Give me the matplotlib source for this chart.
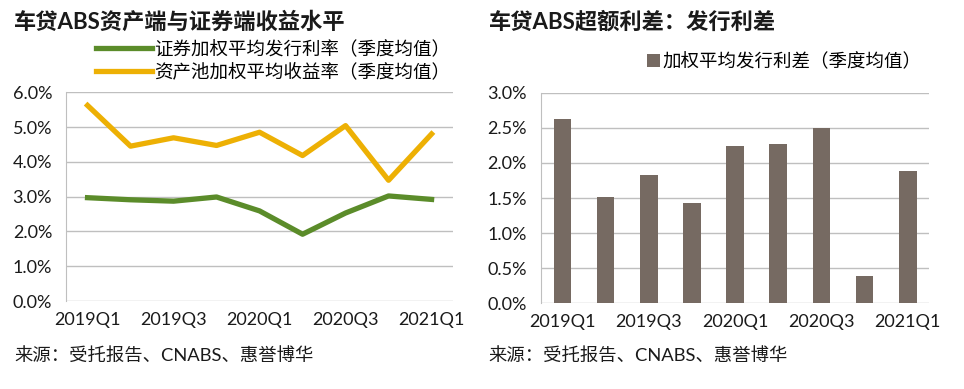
import numpy as np
import matplotlib
matplotlib.use("Agg")
import matplotlib.pyplot as plt
from matplotlib.ticker import FuncFormatter, MultipleLocator

plt.rcParams['font.family'] = ['Lato', 'Noto Sans CJK SC', 'DejaVu Sans']

quarters = ["2019Q1", "2019Q2", "2019Q3", "2019Q4", "2020Q1",
            "2020Q2", "2020Q3", "2020Q4", "2021Q1"]
issue_rate = [2.97, 2.91, 2.87, 2.99, 2.59, 1.92, 2.53, 3.02, 2.92]
pool_yield = [5.62, 4.45, 4.69, 4.47, 4.85, 4.18, 5.04, 3.47, 4.80]
spread = [2.63, 1.51, 1.83, 1.43, 2.24, 2.27, 2.50, 0.39, 1.89]

label_issue = "证券加权平均发行利率（季度均值）"
label_pool = "资产池加权平均收益率（季度均值）"
label_spread = "加权平均发行利差（季度均值）"
title_left = "车贷ABS资产端与证券端收益水平"
title_right = "车贷ABS超额利差：发行利差"
source = "来源：受托报告、CNABS、惠誉博华"

green = "#5B8C2A"
gold = "#EDB004"
brown = "#766A62"
grid_c = "#BFBFBF"
text_c = "#1A1A1A"

fig = plt.figure(figsize=(9.64, 3.89), dpi=100)
ax1 = fig.add_axes([0.0685, 0.226, 0.4015, 0.537])
ax2 = fig.add_axes([0.561, 0.221, 0.403, 0.540])

x = np.arange(len(quarters))
pct = FuncFormatter(lambda v, p: f"{v:.1f}%")


def style(ax, ymax, step):
    ax.set_xlim(-0.5, len(quarters) - 0.5)
    ax.set_ylim(0, ymax)
    ax.yaxis.set_major_locator(MultipleLocator(step))
    ax.yaxis.set_major_formatter(pct)
    ax.set_xticks(x[::2])
    ax.set_xticklabels(quarters[::2])
    ax.grid(axis='y', color=grid_c, linewidth=1)
    ax.set_axisbelow(True)
    for s in ['top', 'right', 'bottom']:
        ax.spines[s].set_visible(False)
    ax.spines['left'].set_color(grid_c)
    ax.tick_params(length=0, labelsize=13, colors=text_c, pad=8)
    ax.tick_params(axis='y', pad=10)


ax1.plot(x, issue_rate, color=green, lw=3.8, label=label_issue)
ax1.plot(x, pool_yield, color=gold, lw=3.8, label=label_pool)
style(ax1, 6.0, 1.0)
ax1.legend(loc='upper left', bbox_to_anchor=(0.1, 0.897),
           bbox_transform=fig.transFigure, frameon=False, fontsize=13.3,
           handlelength=3.0, handletextpad=0.1, labelspacing=0.25,
           borderaxespad=0, borderpad=0)

ax2.bar(x, spread, width=0.41, color=brown, label=label_spread)
style(ax2, 3.0, 0.5)
ax2.legend(loc='upper left', bbox_to_anchor=(0.671, 0.866),
           bbox_transform=fig.transFigure, frameon=False, fontsize=13.3,
           handlelength=0.7, handleheight=0.7, handletextpad=0.15,
           borderaxespad=0, borderpad=0)

fig.text(0.0145, 0.943, title_left, fontsize=16, fontweight='bold',
         color=text_c, va='center')
fig.text(0.507, 0.943, title_right, fontsize=16, fontweight='bold',
         color=text_c, va='center')
fig.text(0.0145, 0.087, source, fontsize=13.2, color=text_c, va='center')
fig.text(0.507, 0.087, source, fontsize=13.2, color=text_c, va='center')

fig.savefig("out.png", dpi=100)
